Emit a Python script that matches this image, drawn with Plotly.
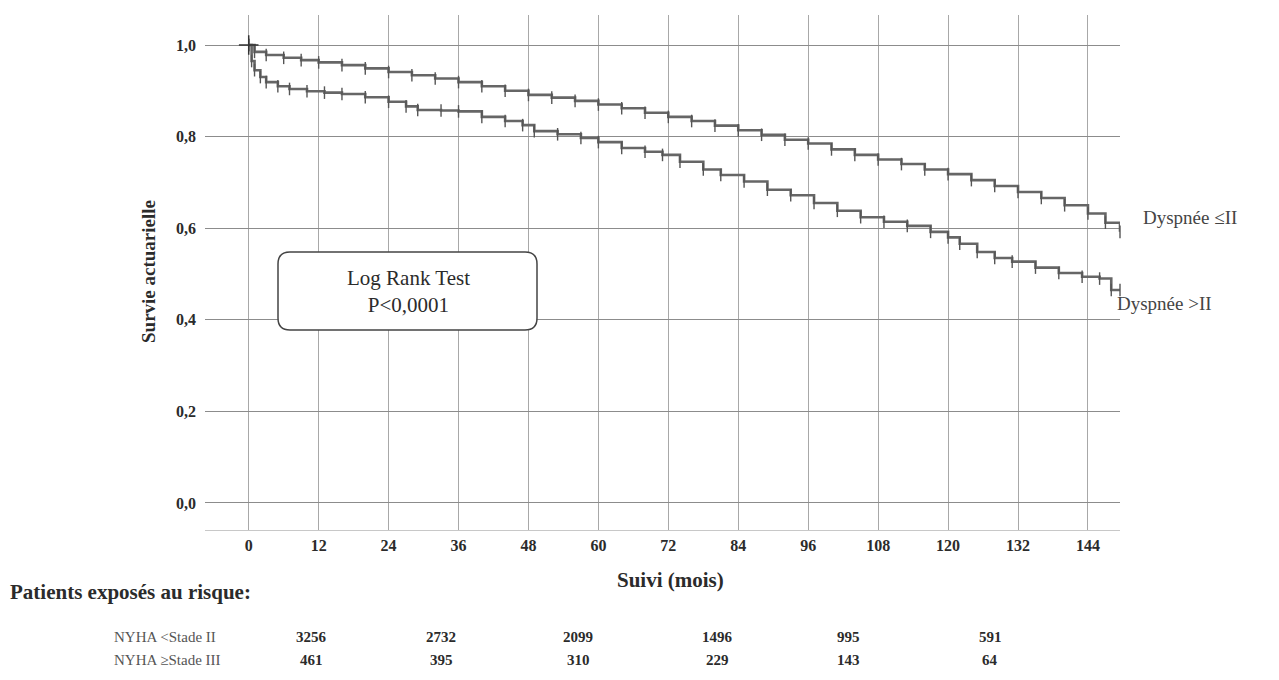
import plotly.graph_objects as go

# ---- data ----
months_ticks = [0, 12, 24, 36, 48, 60, 72, 84, 96, 108, 120, 132, 144]
y_ticks = [0.0, 0.2, 0.4, 0.6, 0.8, 1.0]
y_tick_labels = ["0,0", "0,2", "0,4", "0,6", "0,8", "1,0"]

upper_label = "Dyspnée ≤II"
upper_t = [0, 1, 3, 6, 9, 12, 16, 20, 24, 28, 32, 36, 40, 44, 48, 52, 56, 60, 64, 68,
           72, 76, 80, 84, 88, 92, 96, 100, 104, 108, 112, 116, 120, 124, 128, 132,
           136, 140, 144, 147, 149.5]
upper_s = [1.0, 0.985, 0.978, 0.972, 0.967, 0.962, 0.956, 0.949, 0.941, 0.934, 0.927,
           0.919, 0.910, 0.900, 0.891, 0.885, 0.878, 0.870, 0.862, 0.852, 0.843, 0.834,
           0.824, 0.814, 0.804, 0.793, 0.785, 0.772, 0.760, 0.750, 0.740, 0.728, 0.718,
           0.705, 0.692, 0.679, 0.666, 0.650, 0.632, 0.612, 0.592]

lower_label = "Dyspnée >II"
lower_t = [0, 0.5, 1, 2, 3, 5, 7, 10, 13, 16, 20, 24, 27, 29, 33, 36, 40, 44, 47, 49,
           53, 57, 60, 64, 68, 71, 74, 78, 81, 85, 89, 93, 97, 101, 105, 109, 113, 117,
           120, 122, 125, 128, 131, 135, 139, 143, 146, 148, 149.5]
lower_s = [1.0, 0.965, 0.945, 0.930, 0.919, 0.910, 0.904, 0.899, 0.896, 0.893, 0.886,
           0.876, 0.866, 0.858, 0.857, 0.855, 0.843, 0.834, 0.825, 0.812, 0.805, 0.797,
           0.788, 0.775, 0.767, 0.760, 0.745, 0.728, 0.716, 0.702, 0.684, 0.672, 0.655,
           0.638, 0.624, 0.614, 0.605, 0.592, 0.580, 0.566, 0.548, 0.535, 0.527, 0.514,
           0.502, 0.494, 0.490, 0.465, 0.465]

risk_title = "Patients exposés au risque:"
risk_groups = ["NYHA &lt;Stade II", "NYHA ≥Stade III"]
risk_row1 = ["3256", "2732", "2099", "1496", "995", "591"]
risk_row2 = ["461", "395", "310", "229", "143", "64"]
risk_px = [311, 441, 578, 717, 848, 990]   # horizontal pixel centres of the table columns

# ---- layout geometry (page pixels; the page body adds an 8px offset) ----
W, H = 1279, 680
OFF = 8
L, R, T, B = 205, 1120, 15, 530
def px_x(px):
    return (px - L) / (R - L)
def px_y(py):
    return (B - py) / (B - T)

FONT = "Liberation Serif"
INK = "#2b2b2b"
LINE = "#666666"

fig = go.Figure()
for t, s, name in [(upper_t, upper_s, upper_label), (lower_t, lower_s, lower_label)]:
    fig.add_trace(go.Scatter(
        x=t, y=s, mode="lines+markers", name=name, line_shape="hv",
        line=dict(color=LINE, width=2.6),
        marker=dict(symbol="line-ns", size=9, line=dict(color="#555", width=1.4)),
        showlegend=False, cliponaxis=False))

fig.add_trace(go.Scatter(x=[0], y=[1.0], mode="markers", showlegend=False,
                         marker=dict(symbol="cross-thin", size=14, line=dict(color="#333", width=1.5))))

def ann(text, px, py, size, color=INK, xanchor="center", **kw):
    return dict(text=text, x=px_x(px), y=px_y(py), xref="paper", yref="paper",
                xanchor=xanchor, yanchor="middle", showarrow=False,
                font=dict(family=FONT, size=size, color=color), **kw)

annotations = []
annotations.append(ann("<b>Suivi (mois)</b>", 670, 580, 21))
annotations.append(ann("<b>Survie actuarielle</b>", 148, 272, 19, textangle=-90))
annotations.append(ann("<b>" + risk_title + "</b>", 8, 592, 21, xanchor="left"))
for lab, py in zip(risk_groups, [637, 660]):
    annotations.append(ann(lab, 112, py, 15, color="#555", xanchor="left"))
for row, py in [(risk_row1, 637), (risk_row2, 660)]:
    for v, px in zip(row, risk_px):
        annotations.append(ann("<b>" + v + "</b>", px, py, 15))
annotations.append(ann(upper_label, 1141, 217, 19, color="#444", xanchor="left"))
annotations.append(ann(lower_label, 1115, 303, 19, color="#444", xanchor="left"))
annotations.append(ann("Log Rank Test<br>P&lt;0,0001", 408, 292, 21, align="center"))

# rounded box around the log-rank text
x0, x1, y0, y1, r = px_x(278), px_x(537), px_y(330), px_y(252), 12
rx, ry = r / (R - L), r / (B - T)
path = (f"M {x0+rx},{y0} L {x1-rx},{y0} Q {x1},{y0} {x1},{y0+ry} L {x1},{y1-ry} "
        f"Q {x1},{y1} {x1-rx},{y1} L {x0+rx},{y1} Q {x0},{y1} {x0},{y1-ry} "
        f"L {x0},{y0+ry} Q {x0},{y0} {x0+rx},{y0} Z")
shapes = [dict(type="path", path=path, xref="paper", yref="paper",
               line=dict(color="#444", width=1.5), fillcolor="white", layer="above")]

fig.update_layout(
    width=W, height=H,
    margin=dict(l=L - OFF, r=W - R + OFF, t=T - OFF, b=H - B + OFF),
    plot_bgcolor="white", paper_bgcolor="white",
    annotations=annotations, shapes=shapes,
    xaxis=dict(range=[-7.5, 149.5], tickvals=months_ticks, ticktext=[f"<b>{m}</b>" for m in months_ticks],
               showgrid=True, gridcolor="#a8a8a8", gridwidth=1, zeroline=False,
               showline=True, linecolor="#c8c8c8", linewidth=1, ticks="", ticklabelstandoff=1,
               tickfont=dict(family=FONT, size=16, color=INK)),
    yaxis=dict(range=[-0.059, 1.0655], tickvals=y_ticks, ticktext=[f"<b>{t}</b>" for t in y_tick_labels],
               showgrid=True, gridcolor="#8c8c8c", gridwidth=1.3, zeroline=False,
               showline=False, ticks="", ticklabelstandoff=8,
               tickfont=dict(family=FONT, size=16, color=INK)),
)

fig.write_html("out.html")
